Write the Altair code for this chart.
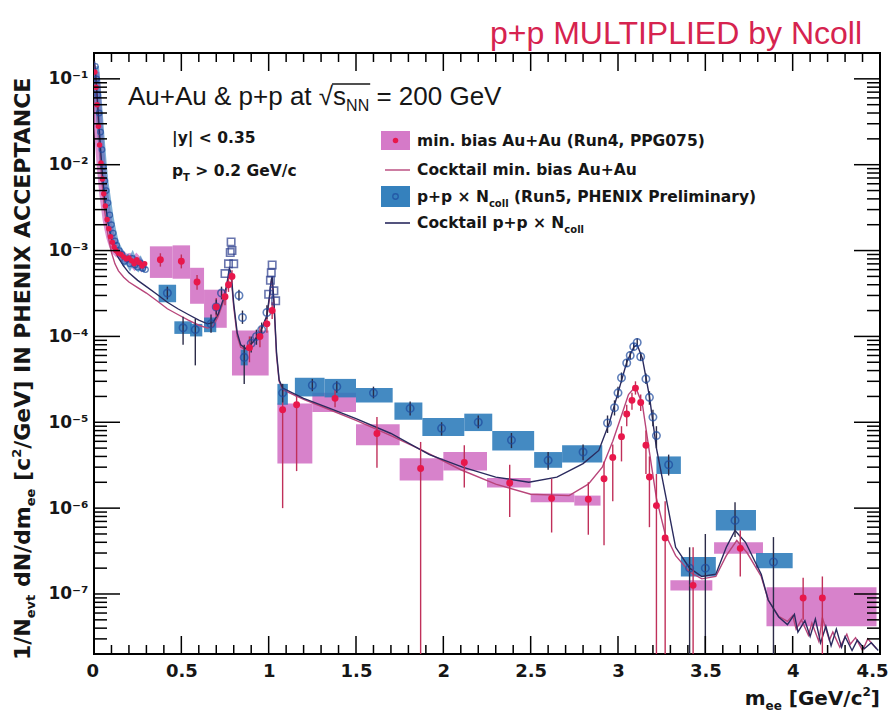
import altair as alt
import pandas as pd

# ---------------- data ----------------
# Au+Au min. bias, dense low-mass points
aa_low_x = [0.005, 0.012, 0.018, 0.025, 0.032, 0.04, 0.048, 0.056, 0.065, 0.075, 0.085, 0.095, 0.105,
            0.115, 0.125, 0.14, 0.155, 0.17, 0.185, 0.2, 0.215, 0.23, 0.245, 0.26, 0.275, 0.29]
aa_low_y = [1.2e-1, 8.0e-2, 5.0e-2, 2.8e-2, 1.7e-2, 1.05e-2, 6.8e-3, 4.6e-3, 3.3e-3, 2.3e-3, 1.8e-3,
            1.45e-3, 1.25e-3, 1.1e-3, 1.0e-3, 9.3e-4, 9.0e-4, 8.4e-4, 8.0e-4, 8.2e-4, 7.6e-4, 7.0e-4,
            7.8e-4, 7.2e-4, 6.6e-4, 7.0e-4]

# Au+Au binned points with statistical errors
aa_x = [0.38, 0.50, 0.59, 0.70, 0.75, 0.77, 0.79, 0.89, 0.95, 0.99, 1.02, 1.08, 1.16, 1.38, 1.62, 1.87,
        2.12, 2.38, 2.62, 2.83, 2.92, 2.97, 3.02, 3.05, 3.08, 3.10, 3.13, 3.16, 3.18, 3.22, 3.27, 3.43,
        3.70, 4.06, 4.17]
aa_y = [7.8e-4, 7.5e-4, 4.3e-4, 2.2e-4, 2.9e-4, 4.0e-4, 5.0e-4, 7.4e-5, 1.0e-4, 1.4e-4, 2.0e-4, 1.4e-5,
        1.6e-5, 1.9e-5, 7.4e-6, 2.9e-6, 3.4e-6, 1.96e-6, 1.3e-6, 1.27e-6, 2.2e-6, 3.9e-6, 6.8e-6,
        1.25e-5, 1.8e-5, 2.5e-5, 1.7e-5, 5.4e-6, 2.3e-6, 1.07e-6, 4.5e-7, 1.26e-7, 3.4e-7, 9.0e-8, 9.0e-8]
aa_elo = [6.5e-4, 6.2e-4, 3.5e-4, 1.7e-4, 2.3e-4, 3.3e-4, 4.2e-4, 5.0e-5, 7.5e-5, 1.1e-4, 1.6e-4, 1.0e-6,
          2.7e-6, 1.5e-5, 2.95e-6, 2e-8, 1.74e-6, 7.9e-7, 5.2e-7, 4.9e-7, 3.7e-7, 1.2e-6, 3.5e-6, 9e-6,
          1.4e-5, 2.1e-5, 1.35e-5, 2.5e-6, 6e-7, 2e-8, 2e-8, 2e-8, 1.6e-7, 5e-8, 2e-8]
aa_ehi = [9.3e-4, 9.0e-4, 5.2e-4, 2.8e-4, 3.5e-4, 4.8e-4, 5.9e-4, 1.0e-4, 1.3e-4, 1.8e-4, 2.5e-4, 2.4e-5,
          2.0e-5, 2.4e-5, 1.15e-5, 5.9e-6, 5.4e-6, 3.2e-6, 2.2e-6, 2.0e-6, 3.5e-6, 5.5e-6, 9e-6, 1.6e-5,
          2.2e-5, 3.0e-5, 2.1e-5, 8e-6, 4e-6, 2.5e-6, 1.2e-6, 3.5e-7, 5.5e-7, 1.55e-7, 1.6e-7]

# Au+Au systematic boxes
aa_bx1 = [0.32, 0.45, 0.55, 0.63, 0.79, 1.05, 1.25, 1.50, 1.75, 2.00, 2.25, 2.50, 2.75, 3.30, 3.55, 3.85]
aa_bx2 = [0.45, 0.55, 0.63, 0.76, 1.00, 1.25, 1.50, 1.75, 2.00, 2.25, 2.50, 2.75, 2.90, 3.54, 3.83, 4.48]
aa_blo = [4.8e-4, 4.7e-4, 2.4e-4, 1.26e-4, 3.5e-5, 3.3e-6, 1.32e-5, 5.4e-6, 2.1e-6, 2.75e-6, 1.74e-6,
          1.17e-6, 1.07e-6, 1.1e-7, 2.95e-7, 4.2e-8]
aa_bhi = [1.12e-3, 1.15e-3, 6.3e-4, 3.5e-4, 1.17e-4, 1.66e-5, 2.2e-5, 9.5e-6, 3.8e-6, 4.5e-6, 2.24e-6,
          1.48e-6, 1.4e-6, 1.45e-7, 4.0e-7, 1.2e-7]

# p+p x Ncoll, dense low-mass points
pp_low_x = [0.008, 0.015, 0.022, 0.03, 0.038, 0.046, 0.054, 0.062, 0.07, 0.08, 0.09, 0.1, 0.11, 0.12,
            0.13, 0.145, 0.16, 0.175, 0.19, 0.205, 0.22, 0.235, 0.25, 0.265, 0.28, 0.295]
pp_low_y = [1.4e-1, 1.0e-1, 6.5e-2, 4.0e-2, 2.4e-2, 1.5e-2, 9.5e-3, 6.5e-3, 5.0e-3, 3.6e-3, 2.6e-3,
            2.0e-3, 1.6e-3, 1.3e-3, 1.15e-3, 1.0e-3, 9.0e-4, 7.5e-4, 8.0e-4, 7.0e-4, 8.1e-4, 6.8e-4,
            6.4e-4, 7.2e-4, 6.2e-4, 6.0e-4]

# p+p x Ncoll binned points with statistical errors
pp_x = [0.42, 0.51, 0.58, 0.67, 0.70, 0.73, 0.83, 0.85, 0.86, 0.90, 0.93, 0.96, 0.99, 1.08, 1.25, 1.39,
        1.60, 1.81, 1.99, 2.20, 2.39, 2.60, 2.80, 2.94, 2.98, 3.00, 3.02, 3.05, 3.07, 3.09, 3.11, 3.13,
        3.16, 3.18, 3.20, 3.22, 3.29, 3.41, 3.50, 3.67, 3.89]
pp_y = [3.2e-4, 1.26e-4, 1.2e-4, 1.4e-4, 2.2e-4, 3.2e-4, 3.0e-4, 1.66e-4, 5.7e-5, 8.3e-5, 1.0e-4, 1.2e-4,
        1.9e-4, 2.2e-5, 2.7e-5, 2.6e-5, 2.2e-5, 1.45e-5, 8.5e-6, 1.0e-5, 6.2e-6, 3.6e-6, 4.5e-6, 9.8e-6,
        1.48e-5, 2.2e-5, 3.3e-5, 4.9e-5, 6.0e-5, 7.6e-5, 8.5e-5, 5.8e-5, 3.2e-5, 1.95e-5, 1.15e-5,
        7.0e-6, 3.2e-6, 2.0e-7, 2.0e-7, 7.2e-7, 2.36e-7]
pp_elo = [2.7e-4, 8.0e-5, 4.6e-5, 1.1e-4, 1.8e-4, 2.7e-4, 2.6e-4, 1.4e-4, 2.8e-5, 6.5e-5, 8.0e-5, 1.0e-4,
          1.6e-4, 1.7e-5, 2.3e-5, 2.2e-5, 1.9e-5, 1.2e-5, 7e-6, 8.5e-6, 5.0e-6, 2.8e-6, 3.6e-6, 7.5e-6,
          1.2e-5, 1.9e-5, 2.9e-5, 4.4e-5, 5.4e-5, 6.9e-5, 7.7e-5, 5.2e-5, 2.8e-5, 1.6e-5, 9e-6, 5e-6,
          2.4e-6, 2e-8, 2e-8, 4.6e-7, 2e-8]
pp_ehi = [3.8e-4, 1.7e-4, 1.6e-4, 1.8e-4, 2.7e-4, 3.8e-4, 3.5e-4, 2.0e-4, 8.0e-5, 1.0e-4, 1.2e-4, 1.45e-4,
          2.3e-4, 2.8e-5, 3.2e-5, 3.0e-5, 2.6e-5, 1.75e-5, 1.0e-5, 1.2e-5, 7.5e-6, 4.5e-6, 5.5e-6, 1.2e-5,
          1.8e-5, 2.6e-5, 3.8e-5, 5.5e-5, 6.7e-5, 8.4e-5, 9.5e-5, 6.5e-5, 3.7e-5, 2.3e-5, 1.4e-5, 9e-6,
          4.2e-6, 3.5e-7, 5.0e-7, 1.17e-6, 4.6e-7]

# p+p x Ncoll open squares at the omega and phi peaks
pp_pk_x = [0.75, 0.77, 0.78, 0.785, 0.79, 0.80, 1.00, 1.01, 1.015, 1.02, 1.03, 1.04]
pp_pk_y = [5.4e-4, 7.0e-4, 9.5e-4, 1.26e-3, 1.0e-3, 7.0e-4, 3.1e-4, 4.5e-4, 5.5e-4, 6.8e-4, 3.4e-4, 2.6e-4]

# p+p x Ncoll systematic boxes
pp_bx1 = [0.37, 0.46, 0.55, 0.63, 0.84, 1.05, 1.15, 1.32, 1.50, 1.72, 1.88, 2.12, 2.28, 2.52, 2.68, 3.22,
          3.36, 3.56, 3.79]
pp_bx2 = [0.47, 0.56, 0.62, 0.70, 0.88, 1.11, 1.32, 1.50, 1.71, 1.88, 2.12, 2.28, 2.52, 2.68, 2.91, 3.36,
          3.56, 3.79, 4.00]
pp_blo = [2.5e-4, 1.07e-4, 1.0e-4, 1.12e-4, 4.6e-5, 1.6e-5, 2.0e-5, 1.95e-5, 1.7e-5, 1.07e-5, 6.9e-6,
          7.9e-6, 4.7e-6, 2.95e-6, 3.4e-6, 2.5e-6, 1.6e-7, 5.5e-7, 2.0e-7]
pp_bhi = [4.0e-4, 1.5e-4, 1.4e-4, 1.66e-4, 7.0e-5, 2.8e-5, 3.3e-5, 3.2e-5, 2.5e-5, 1.7e-5, 1.12e-5,
          1.26e-5, 7.9e-6, 4.5e-6, 5.4e-6, 4.0e-6, 2.7e-7, 9.5e-7, 3.0e-7]

# Cocktail min. bias Au+Au
ck_aa_x = [0.003, 0.01, 0.02, 0.03, 0.04, 0.05, 0.06, 0.08, 0.1, 0.12,
           0.14, 0.17, 0.2, 0.25, 0.3, 0.36, 0.42, 0.48, 0.54, 0.6,
           0.65, 0.68, 0.71, 0.74, 0.76, 0.775, 0.785, 0.80, 0.82, 0.84,
           0.87, 0.91, 0.95, 0.99, 1.005, 1.015, 1.02, 1.03, 1.045, 1.06,
           1.08, 1.2, 1.35, 1.5, 1.7, 1.88, 2.1, 2.3, 2.5, 2.72,
           2.83, 2.91, 2.97, 3.02, 3.06, 3.1, 3.14, 3.18, 3.22, 3.27,
           3.33, 3.41, 3.48, 3.56, 3.62, 3.68, 3.74, 3.82, 3.86, 3.92,
           3.97, 4.0, 4.02, 4.05, 4.09, 4.11, 4.15, 4.17, 4.21, 4.23,
           4.27, 4.31, 4.33, 4.36, 4.4, 4.43, 4.48]
ck_aa_y = [1.5e-1, 1.0e-1, 4.5e-2, 2.0e-2, 9.5e-3, 5.0e-3, 3.0e-3, 1.5e-3, 9.5e-4, 7.0e-4,
           5.8e-4, 4.9e-4, 4.3e-4, 3.7e-4, 3.2e-4, 2.6e-4, 2.1e-4, 1.8e-4, 1.55e-4, 1.35e-4,
           1.25e-4, 1.3e-4, 1.7e-4, 2.5e-4, 3.6e-4, 5.5e-4, 5.0e-4, 2.2e-4, 1.0e-4, 7.5e-5,
           7.0e-5, 8.5e-5, 1.1e-4, 1.7e-4, 2.8e-4, 4.3e-4, 4.6e-4, 2.5e-4, 6.0e-5, 3.0e-5,
           2.4e-5, 1.85e-5, 1.4e-5, 1.05e-5, 7.0e-6, 4.7e-6, 2.8e-6, 1.9e-6, 1.45e-6, 1.4e-6,
           1.9e-6, 3.0e-6, 6.0e-6, 1.2e-5, 2.1e-5, 2.6e-5, 1.6e-5, 4.5e-6, 1.3e-6, 5.0e-7,
           2.8e-7, 1.8e-7, 1.5e-7, 1.6e-7, 2.8e-7, 4.2e-7, 3.0e-7, 1.6e-7, 8.5e-8, 5.5e-8,
           4.8e-8, 5.6e-8, 3.9e-8, 5.0e-8, 3.3e-8, 4.6e-8, 2.8e-8, 5.3e-8, 2.9e-8, 3.6e-8,
           2.4e-8, 3.4e-8, 2.6e-8, 3.1e-8, 2.2e-8, 3.0e-8, 2.3e-8]

# Cocktail p+p x Ncoll
ck_pp_x = [0.003, 0.01, 0.02, 0.03, 0.04, 0.05, 0.06, 0.08, 0.1, 0.12,
           0.14, 0.17, 0.2, 0.25, 0.3, 0.36, 0.42, 0.48, 0.54, 0.6,
           0.65, 0.68, 0.71, 0.74, 0.76, 0.775, 0.785, 0.80, 0.82, 0.84,
           0.87, 0.91, 0.95, 0.99, 1.005, 1.015, 1.02, 1.03, 1.045, 1.06,
           1.08, 1.2, 1.35, 1.5, 1.7, 1.92, 2.11, 2.3, 2.49, 2.65,
           2.8, 2.89, 2.95, 3.0, 3.05, 3.09, 3.11, 3.14, 3.18, 3.22,
           3.27, 3.33, 3.41, 3.48, 3.56, 3.62, 3.67, 3.73, 3.82, 3.86,
           3.92, 3.97, 4.01, 4.03, 4.07, 4.1, 4.13, 4.16, 4.19, 4.22,
           4.25, 4.28, 4.3, 4.34, 4.37, 4.41, 4.45, 4.49]
ck_pp_y = [1.6e-1, 1.1e-1, 5.5e-2, 2.6e-2, 1.3e-2, 7.0e-3, 4.2e-3, 2.1e-3, 1.35e-3, 1.0e-3,
           8.2e-4, 6.6e-4, 5.5e-4, 4.5e-4, 3.8e-4, 3.1e-4, 2.5e-4, 2.1e-4, 1.8e-4, 1.55e-4,
           1.4e-4, 1.45e-4, 1.8e-4, 2.7e-4, 4.0e-4, 6.2e-4, 5.5e-4, 2.4e-4, 1.1e-4, 8.0e-5,
           7.2e-5, 8.6e-5, 1.1e-4, 1.75e-4, 3.0e-4, 4.6e-4, 5.0e-4, 2.6e-4, 6.5e-5, 3.1e-5,
           2.5e-5, 1.9e-5, 1.45e-5, 1.1e-5, 7.4e-6, 4.2e-6, 3.0e-6, 2.3e-6, 2.0e-6, 2.3e-6,
           3.3e-6, 4.7e-6, 9.8e-6, 2.2e-5, 5.0e-5, 7.5e-5, 8.0e-5, 5.5e-5, 2.0e-5, 5.0e-6,
           1.5e-6, 3.5e-7, 2.0e-7, 1.6e-7, 1.7e-7, 3.5e-7, 5.5e-7, 4.0e-7, 1.7e-7, 8.5e-8,
           5.4e-8, 4.4e-8, 5.8e-8, 3.6e-8, 4.9e-8, 3.2e-8, 5.1e-8, 2.7e-8, 4.2e-8, 2.5e-8,
           3.9e-8, 2.4e-8, 3.2e-8, 2.2e-8, 2.9e-8, 2.3e-8, 2.7e-8, 2.2e-8]

# axis ticks
x_labels = [0, 0.5, 1, 1.5, 2, 2.5, 3, 3.5, 4, 4.5]
x_major = [0.5, 1, 1.5, 2, 2.5, 3, 3.5, 4]
x_minor = [round(0.1 * i, 1) for i in range(1, 45) if i % 5 != 0]
y_major = [1e-7, 1e-6, 1e-5, 1e-4, 1e-3, 1e-2, 1e-1]
y_minor = [m * 10.0 ** k for k in range(-8, 0) for m in range(2, 10) if 2.05e-8 < m * 10.0 ** k < 0.195]

# ---------------- chart ----------------
W, H = 786, 601
FONT = "DejaVu Sans"
FONT2 = "Liberation Sans"
INK = "#161616"
C_AA_BOX = "#d06cc2"
C_PP_BOX = "#2a7ab9"
C_AA_PT = "#e8174b"
C_PP_PT = "#1d4a9e"
C_CK_AA = "#b8457a"
C_CK_PP = "#2a2a5e"
C_ERR_AA = "#c0305a"
C_ERR_PP = "#2b2b48"

xsc = alt.Scale(domain=[0, 4.5], nice=False, zero=False)
ysc = alt.Scale(type="log", domain=[2e-8, 0.2], nice=False)

sup = {-1: "⁻¹", -2: "⁻²", -3: "⁻³", -4: "⁻⁴", -5: "⁻⁵", -6: "⁻⁶", -7: "⁻⁷"}
expr = ""
for k in range(-7, 0):
    expr += f"datum.value < {1.5 * 10.0 ** k:.3g} ? '10{sup[k]}' : "
expr += "''"

x_axis = alt.Axis(values=x_labels, format="~g", ticks=False, domain=False, grid=False,
                  labelFont=FONT, labelFontSize=18, labelFontWeight="bold", labelColor=INK,
                  labelPadding=8, labelFlush=True, labelFlushOffset=8, labelOverlap=False, title="")
y_axis = alt.Axis(values=y_major, labelExpr=expr, ticks=False, domain=False, grid=False,
                  labelFont=FONT, labelFontSize=17, labelFontWeight="bold", labelColor=INK,
                  labelPadding=6, labelFlush=False, labelOverlap=False, title="")


def X(f):
    return alt.X(f, type="quantitative", scale=xsc, axis=x_axis)


def Y(f):
    return alt.Y(f, type="quantitative", scale=ysc, axis=y_axis)


aa_box = pd.DataFrame({"x1": aa_bx1, "x2": aa_bx2, "lo": aa_blo, "hi": aa_bhi})
pp_box = pd.DataFrame({"x1": pp_bx1, "x2": pp_bx2, "lo": pp_blo, "hi": pp_bhi})
aa_pts = pd.DataFrame({"x": aa_x, "y": aa_y, "lo": aa_elo, "hi": aa_ehi})
pp_pts = pd.DataFrame({"x": pp_x, "y": pp_y, "lo": pp_elo, "hi": pp_ehi})
aa_low = pd.DataFrame({"x": aa_low_x, "y": aa_low_y})
pp_low = pd.DataFrame({"x": pp_low_x, "y": pp_low_y})
pp_pk = pd.DataFrame({"x": pp_pk_x, "y": pp_pk_y})
ck_aa = pd.DataFrame({"x": ck_aa_x, "y": ck_aa_y, "i": range(len(ck_aa_x))})
ck_pp = pd.DataFrame({"x": ck_pp_x, "y": ck_pp_y, "i": range(len(ck_pp_x))})

layers = []
layers.append(alt.Chart(aa_box).mark_rect(color=C_AA_BOX, opacity=0.85, clip=True).encode(
    x=X("x1"), x2="x2", y=Y("lo"), y2="hi"))
layers.append(alt.Chart(pp_box).mark_rect(color=C_PP_BOX, opacity=0.88, clip=True).encode(
    x=X("x1"), x2="x2", y=Y("lo"), y2="hi"))
layers.append(alt.Chart(aa_low).mark_line(color=C_AA_BOX, strokeWidth=9, opacity=0.75, clip=True).encode(
    x=X("x"), y=Y("y")))
layers.append(alt.Chart(pp_low).mark_line(color=C_PP_BOX, strokeWidth=7, opacity=0.6, clip=True).encode(
    x=X("x"), y=Y("y")))
layers.append(alt.Chart(ck_aa).mark_line(color=C_CK_AA, strokeWidth=1.4, clip=True).encode(
    x=X("x"), y=Y("y"), order="i:Q"))
layers.append(alt.Chart(ck_pp).mark_line(color=C_CK_PP, strokeWidth=1.4, clip=True).encode(
    x=X("x"), y=Y("y"), order="i:Q"))
layers.append(alt.Chart(aa_pts).mark_rule(color=C_ERR_AA, strokeWidth=1.4, clip=True).encode(
    x=X("x"), y=Y("lo"), y2="hi"))
layers.append(alt.Chart(pp_pts).mark_rule(color=C_ERR_PP, strokeWidth=1.4, clip=True).encode(
    x=X("x"), y=Y("lo"), y2="hi"))
layers.append(alt.Chart(pp_low).mark_point(shape="circle", filled=False, size=30, color=C_PP_PT,
                                           strokeWidth=1.3, clip=True).encode(x=X("x"), y=Y("y")))
layers.append(alt.Chart(aa_low).mark_circle(size=30, color=C_AA_PT, opacity=1, clip=True).encode(
    x=X("x"), y=Y("y")))
layers.append(alt.Chart(pp_pts).mark_point(shape="circle", filled=False, size=55, color=C_PP_PT,
                                           strokeWidth=1.6, clip=True).encode(x=X("x"), y=Y("y")))
layers.append(alt.Chart(pp_pk).mark_point(shape="square", filled=False, size=55, color="#2a3c8c",
                                          strokeWidth=1.6, clip=True).encode(x=X("x"), y=Y("y")))
layers.append(alt.Chart(aa_pts).mark_circle(size=48, color=C_AA_PT, opacity=1, clip=True).encode(
    x=X("x"), y=Y("y")))

# frame ticks (ROOT style, on all four sides, pointing inwards)
for vals, ln in ((x_major, 18), (x_minor, 9)):
    d = pd.DataFrame({"v": vals})
    layers.append(alt.Chart(d).mark_rule(color="black", strokeWidth=1.5).encode(
        x=X("v"), y=alt.value(H), y2=alt.value(H - ln)))
    layers.append(alt.Chart(d).mark_rule(color="black", strokeWidth=1.5).encode(
        x=X("v"), y=alt.value(0), y2=alt.value(ln)))
for vals, ln in ((y_major, 26), (y_minor, 13)):
    d = pd.DataFrame({"v": vals})
    layers.append(alt.Chart(d).mark_rule(color="black", strokeWidth=1.5).encode(
        y=Y("v"), x=alt.value(0), x2=alt.value(ln)))
    layers.append(alt.Chart(d).mark_rule(color="black", strokeWidth=1.5).encode(
        y=Y("v"), x=alt.value(W), x2=alt.value(W - ln)))

# ---------------- text helpers ----------------
# Liberation Sans (regular) advance widths, em units
CW_LIB = {"A": .667, "u": .556, "+": .584, " ": .278, "&": .667, "p": .556, "a": .556, "t": .278,
          "√": .549, "s": .5, "N": .722, "=": .584, "2": .556, "0": .556, "G": .778, "e": .556,
          "V": .667}
# DejaVu Sans Bold advance widths, em units
CW_DJB = {"i": .343, "l": .343, "t": .478, "r": .493, "m": 1.042, "n": .712, "u": .712, "p": .716,
          "b": .716, "o": .687, "c": .593, "y": .652, "s": .595, "a": .675, "e": .678, "k": .665,
          "d": .716, "v": .652, "|": .365, "(": .457, ")": .457, "[": .457, "]": .457, " ": .348,
          ",": .38, ".": .38, "+": .838, "×": .838, "A": .774, "N": .837, "R": .770, "P": .733,
          "H": .837, "E": .683, "I": .372, "X": .762, "G": .821, "C": .734, "T": .682, "V": .774,
          "/": .365, "<": .838, ">": .838, "0": .696, "1": .696, "2": .696, "3": .696, "4": .696,
          "5": .696, "7": .696}


def tw(s, size, table):
    return sum(table.get(ch, .65) for ch in s) * size


def txt(s, x, y, size, color=INK, weight="normal", align="left", baseline="alphabetic",
        font=FONT, angle=0):
    return alt.Chart(pd.DataFrame({"t": [s]})).mark_text(
        align=align, baseline=baseline, font=font, fontSize=size, fontWeight=weight,
        color=color, angle=angle).encode(x=alt.value(x), y=alt.value(y), text="t:N")


def seq(parts, x, y, table=CW_DJB, font=FONT, weight="bold"):
    """parts: (text, size, dy) drawn one after the other; leading blanks become offsets"""
    out = []
    for s, size, dy in parts:
        stripped = s.lstrip(" ")
        x += tw(s[: len(s) - len(stripped)], size, table)
        out.append(txt(stripped, x, y + dy, size, weight=weight, font=font))
        x += tw(stripped, size, table)
    return out, x


def vseq(parts, x, y, table=CW_DJB):
    """rotated (reading upwards) sequence; (text, size, dx)"""
    out = []
    for s, size, dx in parts:
        stripped = s.lstrip(" ")
        y -= tw(s[: len(s) - len(stripped)], size, table)
        out.append(txt(stripped, x + dx, y, size, weight="bold", angle=270))
        y -= tw(stripped, size, table)
    return out


# red title
layers.append(txt("p+p MULTIPLIED by Ncoll", 768, -9, 32, color="#d6234f", align="right", font=FONT2))

# main annotation
big, _ = seq([("Au+Au & p+p at √", 26, 0), ("s", 26, 0), ("NN", 16, 6), (" = 200 GeV", 26, 0)],
             34, 52, table=CW_LIB, font=FONT2, weight="normal")
layers += big
x_sqrt = 34 + tw("Au+Au & p+p at √", 26, CW_LIB)
layers.append(alt.Chart(pd.DataFrame({"a": [0]})).mark_rule(color=INK, strokeWidth=1.5).encode(
    x=alt.value(x_sqrt - 1), x2=alt.value(x_sqrt + tw("s", 26, CW_LIB) + tw("NN", 16, CW_LIB) + 1),
    y=alt.value(31)))

LS = 15.5
layers.append(txt("|y| < 0.35", 78, 90, LS, weight="bold"))
pt, _ = seq([("p", LS, 0), ("T", 10, 5), (" > 0.2 GeV/c", LS, 0)], 78, 123)
layers += pt

# legend
LX = 323
one = pd.DataFrame({"a": [0]})
layers.append(alt.Chart(one).mark_rect(color=C_AA_BOX, opacity=0.9).encode(
    x=alt.value(287), x2=alt.value(316), y=alt.value(78), y2=alt.value(97)))
layers.append(alt.Chart(one).mark_circle(size=30, color=C_AA_PT, opacity=1).encode(
    x=alt.value(301.5), y=alt.value(87.5)))
layers.append(txt("min. bias Au+Au (Run4, PPG075)", LX, 93, LS, weight="bold"))
layers.append(alt.Chart(one).mark_rule(color=C_CK_AA, strokeWidth=1.4).encode(
    x=alt.value(291), x2=alt.value(316), y=alt.value(117)))
layers.append(txt("Cocktail min. bias Au+Au", LX, 122, LS, weight="bold"))
layers.append(alt.Chart(one).mark_rect(color=C_PP_BOX, opacity=0.95).encode(
    x=alt.value(287), x2=alt.value(316), y=alt.value(133), y2=alt.value(154)))
layers.append(alt.Chart(one).mark_point(shape="circle", filled=False, size=30, color=C_PP_PT,
                                        strokeWidth=1.3).encode(x=alt.value(301.5), y=alt.value(143.5)))
r3, _ = seq([("p+p × N", LS, 0), ("coll", 10, 5), (" (Run5, PHENIX Preliminary)", LS, 0)], LX, 149)
layers += r3
layers.append(alt.Chart(one).mark_rule(color=C_CK_PP, strokeWidth=1.6).encode(
    x=alt.value(291), x2=alt.value(316), y=alt.value(170)))
r4, _ = seq([("Cocktail p+p × N", LS, 0), ("coll", 10, 5)], LX, 175)
layers += r4

# axis titles (built from pieces so that sub/superscripts can be sized)
layers += vseq([("1/N", 22, 0), ("evt", 13, 5), (" dN/dm", 22, 0), ("ee", 13, 5), (" [c", 22, 0),
                ("2", 13, -9), ("/GeV] IN PHENIX ACCEPTANCE", 22, 0)], -64, H + 6)
xt_parts = [("m", 20, 0), ("ee", 12, 5), (" [GeV/c", 20, 0), ("2", 12, -9), ("]", 20, 0)]
xt_w = sum(tw(s, sz, CW_DJB) for s, sz, _ in xt_parts)
xt, _ = seq(xt_parts, W - xt_w, H + 51)
layers += xt

chart = alt.layer(*layers).properties(
    width=W, height=H,
    padding={"left": 86, "top": 45, "right": 8, "bottom": 60},
    autosize=alt.AutoSizeParams(type="none"),
    background="white",
).configure_view(stroke="black", strokeWidth=2)

chart.save("out.html", embed_options={"renderer": "svg", "actions": False})
